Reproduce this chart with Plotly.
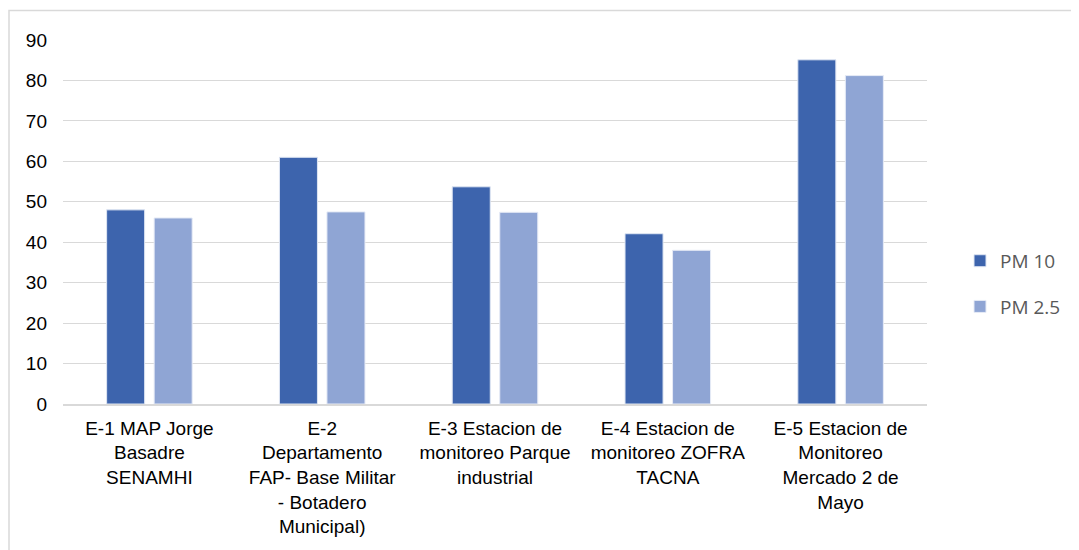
import plotly.graph_objects as go

# estaciones y concentraciones
estaciones = [
    "E-1 MAP Jorge<br>Basadre<br>SENAMHI",
    "E-2<br>Departamento<br>FAP- Base Militar<br>- Botadero<br>Municipal)",
    "E-3 Estacion de<br>monitoreo Parque<br>industrial",
    "E-4 Estacion de<br>monitoreo ZOFRA<br>TACNA",
    "E-5 Estacion de<br>Monitoreo<br>Mercado 2 de<br>Mayo",
]
pm10 = [48.0, 61.0, 53.7, 42.1, 85.1]
pm25 = [46.0, 47.5, 47.4, 38.0, 81.2]
y_ticks = [0, 10, 20, 30, 40, 50, 60, 70, 80, 90]

# la pagina tiene 8px de margen en el body, por eso los margenes van corridos
W, H = 1079, 550
ml, mt = 55, 31.5
pw, ph = 864, 365
mr, mb = W - ml - pw, H - mt - ph

fig = go.Figure()
fig.add_trace(go.Bar(x=estaciones, y=pm10, name="PM 10", legendgroup="a",
                     marker=dict(color="#3d64ad", line=dict(color="#dfe6f3", width=1))))
fig.add_trace(go.Bar(x=estaciones, y=pm25, name="PM 2.5", legendgroup="b",
                     marker=dict(color="#8fa5d4", line=dict(color="#e6ebf6", width=1))))

# borde del area del grafico (en px de la figura pasados a paper)
fig.add_shape(type="rect", xref="paper", yref="paper",
              x0=(1 - ml) / pw, x1=(W + 10 - ml) / pw,
              y0=(mt + ph - (H + 10)) / ph, y1=(mt + ph - 2) / ph,
              line=dict(color="#d9d9d9", width=1.5), layer="below")

fig.update_layout(
    width=W, height=H,
    margin=dict(l=ml, r=mr, t=mt, b=mb, autoexpand=False),
    paper_bgcolor="white", plot_bgcolor="white",
    font=dict(family="Liberation Sans, Arial", size=19, color="#000000"),
    barmode="group", bargap=0.45, bargroupgap=0.2,
    legend=dict(y=0.33, yanchor="middle", xanchor="left",
                font=dict(family="Open Sans", size=19, color="#595959"),
                tracegroupgap=18, itemwidth=30),
    showlegend=True,
    xaxis=dict(showline=True, linecolor="#d9d9d9", linewidth=1.5,
               ticks="", ticklabelstandoff=6, automargin=False),
    yaxis=dict(range=[0, 90], tickvals=y_ticks, showgrid=True,
               gridcolor="#d9d9d9", gridwidth=1, zeroline=False,
               ticks="", ticklabelstandoff=15, automargin=False),
)
fig.update_layout(legend_x=1 + (960 - 8 - ml - pw) / pw)

fig.write_html("out.html")
